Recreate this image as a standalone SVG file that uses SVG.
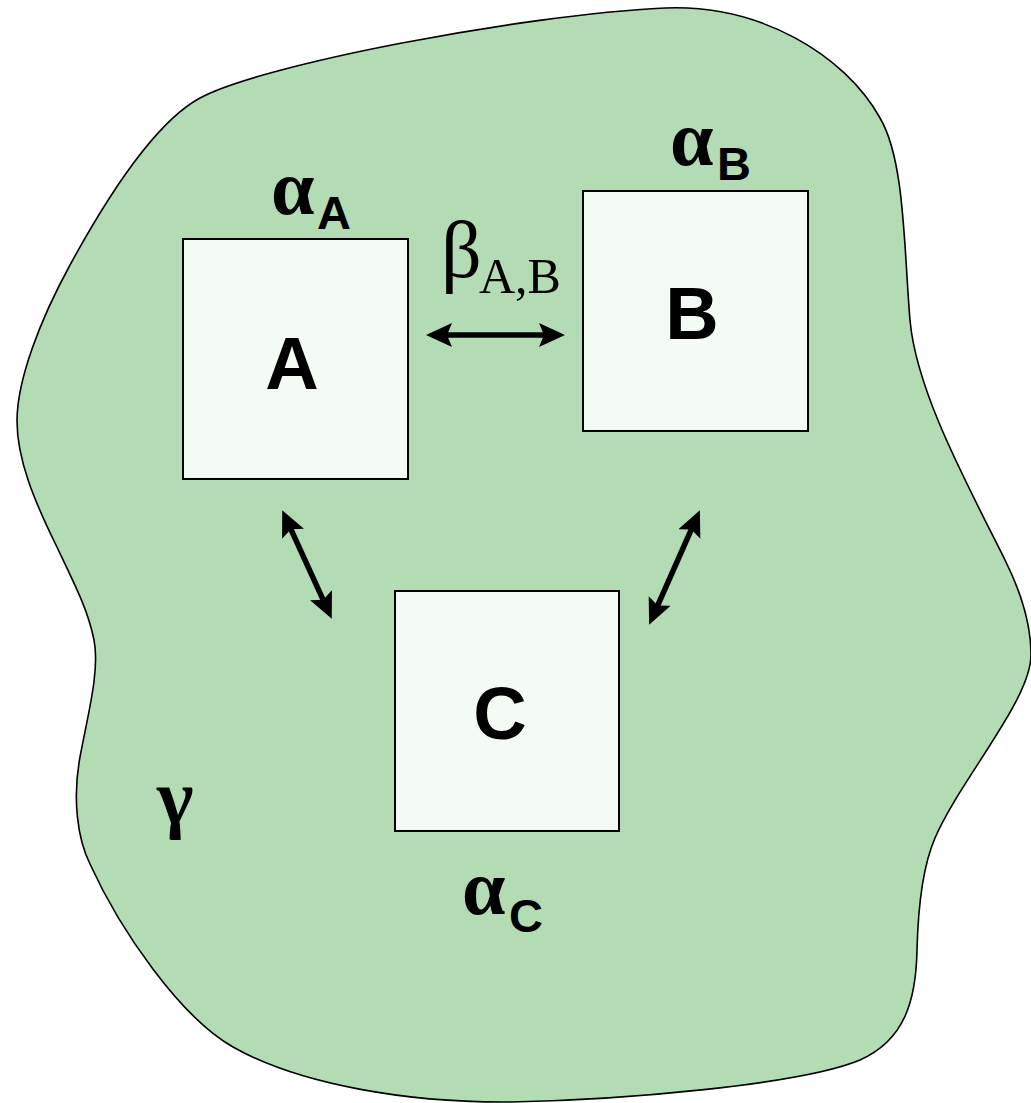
<svg xmlns="http://www.w3.org/2000/svg" width="1031" height="1103" viewBox="0 0 1031 1103">
  <style>
    .region { fill: #b3dcb4; stroke: #000; stroke-width: 1.6; }
    .box { fill: #f4faf4; stroke: #000; stroke-width: 2; }
    .big { font-family: "Liberation Sans", Arial, sans-serif; font-weight: bold; font-size: 74px; fill: #000; text-anchor: middle; }
    .greek { font-family: "Liberation Serif", "Times New Roman", serif; font-weight: bold; font-size: 78px; fill: #000; }
    .sub { font-family: "Liberation Sans", Arial, sans-serif; font-weight: bold; font-size: 47px; fill: #000; }
    .beta { font-family: "Liberation Serif", "Times New Roman", serif; font-size: 80px; fill: #000; }
    .betasub { font-family: "Liberation Serif", "Times New Roman", serif; font-size: 50px; fill: #000; }
    .link { stroke: #000; stroke-width: 5.5; fill: none; marker-start: url(#head); marker-end: url(#head); }
  </style>
  <defs>
    <marker id="head" markerUnits="userSpaceOnUse" viewBox="0 0 26 26" markerWidth="26" markerHeight="26" refX="14" refY="13" orient="auto-start-reverse">
      <path d="M0,1 L26,13 L0,25 L5,13 z" fill="#000"/>
    </marker>
  </defs>

  <!-- surrounding environment -->
  <g id="environment">
    <path class="region" d="M200,98 C260,65 520,15 665,8 C760,4 845,55 880,118 C905,160 904,250 910,320 C916,390 965,480 1005,560 C1025,600 1031,630 1031,655 C1031,700 960,780 935,838 C922,868 918,910 917,950 C916,1000 905,1040 860,1060 C800,1085 620,1100 511,1102 C410,1103 300,1085 233,1047 C180,1017 120,930 90,864 C78,840 72,800 80,757 C88,714 100,670 94,640 C88,610 75,585 55,543 C35,502 17,460 17,421 C17,380 40,320 70,265 C100,210 150,125 200,98 Z"/>
    <text class="greek" x="157" y="823" font-size="60">γ</text>
  </g>

  <g id="node-a">
    <rect class="box" x="183" y="239" width="225" height="240"/>
    <text class="big" x="292" y="389">A</text>
    <text x="271" y="214"><tspan class="greek">α</tspan><tspan class="sub" x="317" y="229">A</tspan></text>
  </g>

  <g id="node-b">
    <rect class="box" x="583" y="191" width="225" height="240"/>
    <text class="big" x="692" y="339">B</text>
    <text x="670" y="165"><tspan class="greek">α</tspan><tspan class="sub" x="717" y="180">B</tspan></text>
  </g>

  <g id="node-c">
    <rect class="box" x="395" y="591" width="224" height="240"/>
    <text class="big" x="500" y="739">C</text>
    <text x="462" y="914"><tspan class="greek">α</tspan><tspan class="sub" x="509" y="932">C</tspan></text>
  </g>

  <!-- interactions between the nodes -->
  <g id="connectors">
    <line class="link" x1="438" y1="335" x2="553" y2="335"/>
    <text x="441" y="277"><tspan class="beta">β</tspan><tspan class="betasub" x="479" y="293">A,B</tspan></text>
    <line class="link" x1="287.2" y1="521.1" x2="326.8" y2="607.9"/>
    <line class="link" x1="695" y1="521.2" x2="654" y2="613.8"/>
  </g>
</svg>
